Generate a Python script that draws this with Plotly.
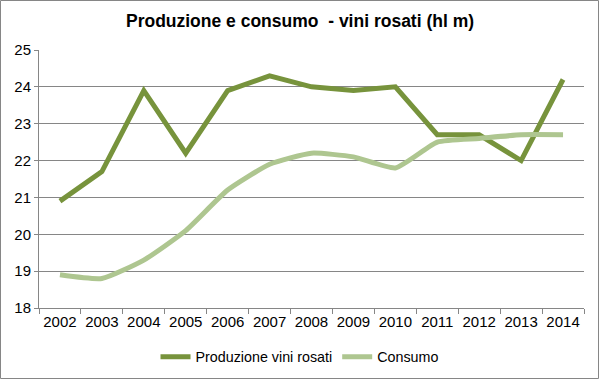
import plotly.graph_objects as go

years = ["2002", "2003", "2004", "2005", "2006", "2007", "2008",
         "2009", "2010", "2011", "2012", "2013", "2014"]
produzione = [20.9, 21.7, 23.9, 22.2, 23.9, 24.3, 24.0, 23.9, 24.0, 22.7, 22.7, 22.0, 24.2]
consumo = [18.9, 18.8, 19.3, 20.1, 21.2, 21.9, 22.2, 22.1, 21.8, 22.5, 22.6, 22.7, 22.7]

fig = go.Figure()
fig.add_trace(go.Scatter(x=years, y=produzione, mode="lines", name="Produzione vini rosati",
                         line=dict(color="#77933C", width=5)))
fig.add_trace(go.Scatter(x=years, y=consumo, mode="lines", name="Consumo",
                         line=dict(color="#AEC690", width=5, shape="spline", smoothing=0.5)))

fig.update_layout(
    width=600, height=379,
    paper_bgcolor="white", plot_bgcolor="white",
    margin=dict(l=39, r=16, t=50, b=71, autoexpand=False),
    font=dict(family="Liberation Sans, Arial, sans-serif", size=15, color="#000000"),
    title=dict(text="<b>Produzione e consumo  - vini rosati (hl m)</b>",
               x=0.5, xanchor="center", y=0.945, yanchor="middle",
               font=dict(size=17.5, family="Liberation Sans, Arial, sans-serif")),
    legend=dict(orientation="h", x=0.478, xanchor="center", y=-0.19, yanchor="middle",
                font=dict(size=14.3), itemwidth=30, traceorder="normal"),
    xaxis=dict(type="category", range=[-0.5, 12.5], tickson="boundaries",
               ticks="outside", ticklen=5, tickcolor="#868686", tickangle=0,
               showline=True, linecolor="#868686", linewidth=1,
               showgrid=False, tickfont=dict(size=15)),
    yaxis=dict(range=[18, 25], dtick=1, ticks="outside", ticklen=4, tickcolor="#868686",
               showline=True, linecolor="#868686", linewidth=1,
               showgrid=True, gridcolor="#868686", gridwidth=1,
               zeroline=False, tickfont=dict(size=15)),
    shapes=[dict(type="rect", xref="paper", yref="paper",
                 x0=-38.5/545, x1=1 + 14.5/545, y0=-70.5/258, y1=1 + 49.5/258,
                 line=dict(color="#868686", width=1), fillcolor="rgba(0,0,0,0)")],
)

fig.write_html("out.html", config={"displayModeBar": False},
               post_script="document.body.style.margin='0';")
